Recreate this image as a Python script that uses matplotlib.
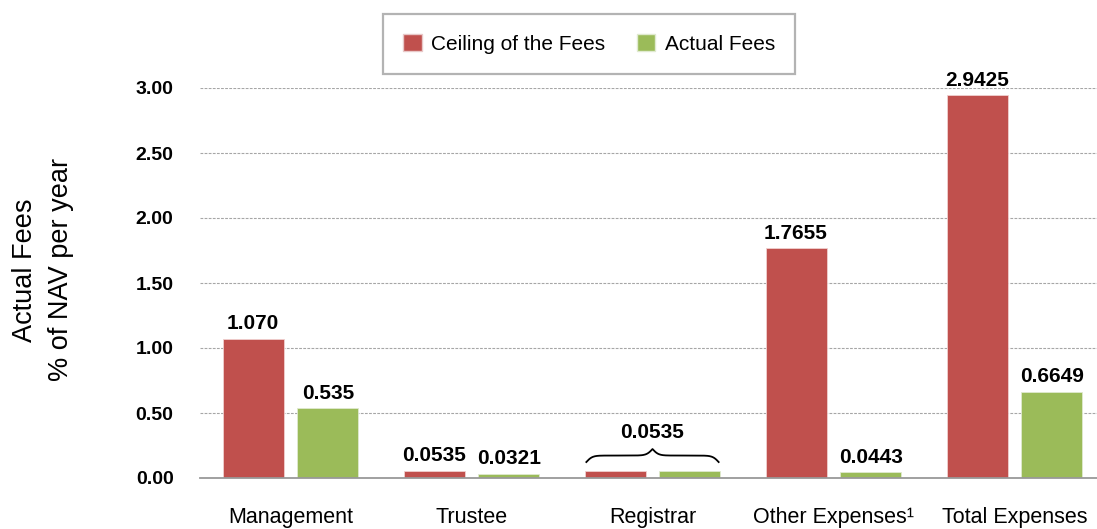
import matplotlib
matplotlib.use('Agg')
import matplotlib.pyplot as plt
import numpy as np
from matplotlib.patches import Patch
from matplotlib.transforms import blended_transform_factory

plt.rcParams['font.family'] = ['Liberation Sans', 'DejaVu Sans']

# data
categories = ['Management', 'Trustee', 'Registrar', 'Other Expenses\u00b9', 'Total Expenses']
ceiling = [1.070, 0.0535, 0.0535, 1.7655, 2.9425]
actual = [0.535, 0.0321, 0.0535, 0.0443, 0.6649]
ceiling_labels = ['1.070', '0.0535', None, '1.7655', '2.9425']
actual_labels = ['0.535', '0.0321', None, '0.0443', '0.6649']
shared_label = '0.0535'   # one label over both Registrar bars
shared_idx = 2
yticks = [0.0, 0.5, 1.0, 1.5, 2.0, 2.5, 3.0]

RED = '#C0504D'
GREEN = '#9BBB59'


def curly_brace(ax, x0, x1, y_base, height, **kw):
    ''' draw a horizontal curly brace, x in data units, y in inches '''
    t = np.linspace(0, 1, 101)
    beta = 22.0
    half = 1 / (1 + np.exp(-beta * t)) + 1 / (1 + np.exp(-beta * (t - 1)))
    half = half - half[0]
    half = half / half[-1]
    prof = np.concatenate([half, half[-2::-1]])
    xs = np.linspace(x0, x1, prof.size)
    ys = y_base + prof * height
    trans = blended_transform_factory(ax.transData, ax.figure.dpi_scale_trans)
    ax.plot(xs, ys, transform=trans, clip_on=False, **kw)


def main():
    fig = plt.figure(figsize=(10.97, 5.29), dpi=100)
    ax = fig.add_axes([200 / 1097, 51 / 529, 905 / 1097, 390 / 529])

    x = np.arange(len(categories))
    w = 0.337
    off = 0.207
    ax.bar(x - off, ceiling, w, color=RED, edgecolor='#F0D0D0', linewidth=0.6, zorder=3)
    ax.bar(x + off, actual, w, color=GREEN, edgecolor='#E0EAD0', linewidth=0.6, zorder=3)

    ax.set_xlim(-0.5, 4.5)
    ax.set_ylim(0, 3.0)
    ax.set_yticks(yticks)
    ax.set_yticklabels([f'{v:.2f}' for v in yticks])
    ax.set_xticks(x)
    ax.set_xticklabels(categories)

    for s in ['top', 'right', 'left']:
        ax.spines[s].set_visible(False)
    ax.spines['bottom'].set_color('#999999')
    ax.spines['bottom'].set_linewidth(1.3)
    ax.spines['bottom'].set_zorder(4)

    ax.yaxis.grid(True, linestyle=(0, (2.5, 1.2)), color='#A6A6A6', linewidth=0.8, zorder=0)
    ax.tick_params(axis='y', length=0, pad=19, labelsize=14)
    ax.tick_params(axis='x', length=0, pad=21, labelsize=15.5)
    for lab in ax.get_yticklabels():
        lab.set_fontweight('bold')

    # value labels
    for i in range(len(categories)):
        if ceiling_labels[i]:
            ax.annotate(ceiling_labels[i], (x[i] - off, ceiling[i]), xytext=(0, 4),
                        textcoords='offset points', ha='center', va='bottom',
                        fontsize=15, fontweight='bold', annotation_clip=False)
        if actual_labels[i]:
            ax.annotate(actual_labels[i], (x[i] + off, actual[i]), xytext=(0, 4),
                        textcoords='offset points', ha='center', va='bottom',
                        fontsize=15, fontweight='bold', annotation_clip=False)

    # brace over the Registrar pair
    i = shared_idx
    top = max(ceiling[i], actual[i])
    y_in = ax.transData.transform((0, top))[1] / fig.dpi
    curly_brace(ax, x[i] - off - w / 2 + 0.01, x[i] + off + w / 2 - 0.01,
                y_in + 9 / fig.dpi, 13 / fig.dpi, color='black', linewidth=1.3)
    ax.annotate(shared_label, (x[i], top), xytext=(0, 21), textcoords='offset points',
                ha='center', va='bottom', fontsize=15, fontweight='bold')

    fig.text(43 / 1097, 0.49, 'Actual Fees\n% of NAV per year', rotation=90,
             ha='center', va='center', fontsize=19.5, linespacing=1.45)

    handles = [Patch(facecolor=RED, edgecolor='#E8C8C8'), Patch(facecolor=GREEN, edgecolor='#E0EAD0')]
    leg = fig.legend(handles, ['Ceiling of the Fees', 'Actual Fees'], loc='center',
                     bbox_to_anchor=(589 / 1097, 1 - 44 / 529), ncol=2, fontsize=15,
                     handlelength=0.9, handleheight=0.9, handletextpad=0.45,
                     columnspacing=1.5, borderpad=0.95, fancybox=False, borderaxespad=0)
    leg.get_frame().set_edgecolor('#A0A0A0')
    leg.get_frame().set_linewidth(1.6)

    fig.savefig('out.png', dpi=100)


if __name__ == '__main__':
    main()
